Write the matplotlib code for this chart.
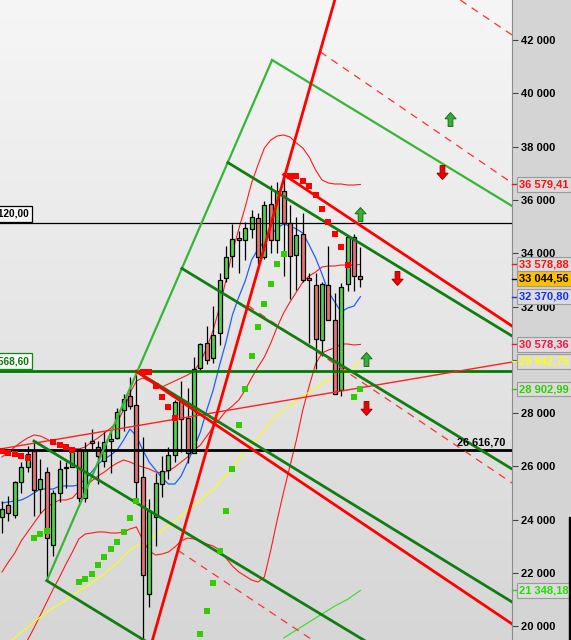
import numpy as np
import matplotlib.pyplot as plt
import matplotlib.transforms as mtransforms
from matplotlib.colors import LinearSegmentedColormap
from matplotlib.path import Path
from matplotlib.patches import Rectangle

plt.rcParams['font.family'] = ['Liberation Sans', 'DejaVu Sans']
nan = np.nan

# monthly candles, May 2018 .. Jan 2023 (index 0..56)
opens = [24117, 24542, 24161, 25416, 25964, 26598, 25152, 25780, 23058, 24999,
         25975, 25997, 26640, 24819, 26964, 26730, 26198, 26962, 27080, 28109,
         28638, 28319, 25591, 21227, 24120, 25342, 25879, 26419, 28439, 27816,
         26501, 29691, 30627, 30055, 30999, 33054, 33904, 34584, 34507, 34926,
         35312, 33844, 35833, 34502, 36322, 35152, 33926, 34726, 33061, 32814,
         30737, 32798, 31510, 28855, 32862, 34590, 33148]
highs = [24700, 24900, 25461, 26167, 26770, 26952, 26277, 25980, 25100, 26241,
         26156, 26696, 26665, 26907, 27399, 26958, 27306, 27398, 28175, 28701,
         29374, 29568, 27102, 24765, 25759, 26400, 26743, 28502, 29199, 28958,
         30116, 30637, 31272, 32009, 33259, 34256, 35091, 34849, 35171, 35631,
         35510, 35952, 36566, 36680, 36953, 35825, 35372, 35492, 33276, 33272,
         32910, 34281, 32504, 32883, 34589, 34712, 34234]
lows = [23500, 23950, 24077, 25013, 25800, 24122, 24268, 21713, 22638, 24681,
        25208, 25962, 24680, 24680, 26586, 25339, 25978, 25743, 27011, 27325,
        28170, 24681, 18214, 20735, 23000, 24844, 25524, 26180, 26537, 26143,
        26501, 29582, 29857, 29897, 30548, 32931, 33474, 33272, 33742, 34584,
        33613, 33785, 34006, 34006, 33150, 32272, 32632, 32913, 30636, 29653,
        30144, 31500, 28715, 28660, 32573, 32573, 32730]
closes = [24416, 24271, 25415, 25965, 26458, 25116, 25538, 23327, 24999, 25916,
          25929, 26593, 24815, 26600, 26864, 26403, 26917, 27046, 28051, 28538,
          28256, 25409, 21917, 24346, 25383, 25813, 26428, 28430, 27782, 26502,
          29639, 30606, 29983, 30932, 32981, 33875, 34529, 34503, 34935, 35361,
          33844, 35820, 34484, 36338, 35132, 33893, 34678, 32977, 32990, 30775,
          32845, 31510, 28725, 32733, 34590, 33147, 33044.56]

bb_upper = [26354, 26542, 26729, 26917, 27067, 27180, 27142, 27030, 26879, 26804,
            26729, 26692, 26654, 26729, 26917, 27067, 27255, 27442, 27667, 28118,
            28755, 29206, 29318, 29206, 29093, 28980, 29093, 29206, 29318, 29431,
            29581, 29919, 30444, 31119, 31982, 32995, 34046, 34909, 35734, 36634,
            37310, 37948, 38248, 38398, 38436, 38361, 38135, 37948, 37610, 37122,
            36747, 36634, 36597, 36597, 36559, 36559, 36579.41]
bb_mid = [22040, 22415, 22753, 23203, 23541, 23879, 24216, 24479, 24628, 24741,
          24741, 24816, 25078, 25266, 25454, 25641, 25791, 25979, 26129, 26242,
          26166, 26054, 25979, 25904, 25791, 25754, 25829, 25979, 26166, 26354,
          26617, 26804, 27142, 27480, 27780, 28081, 28268, 28493, 28868, 29318,
          29731, 30106, 30631, 31231, 31756, 32170, 32545, 32920, 33145, 33295,
          33483, 33521, 33521, 33558, 33558, 33558, 33578.88]
bb_lower = [nan, nan, nan, 18999, 19488, 19938, 20426, 20913, 21401, 21851,
            22339, 22789, 23278, 23465, 23503, 23541, 23541, 23503, 23503, 23541,
            23653, 23728, 23240, 22828, 22677, 22715, 22789, 22977, 23203, 23315,
            23278, 23203, 23090, 23015, 22865, 22565, 22265, 22040, 21889, 21739,
            21664, 21851, 22865, 23990, 25041, 26017, 26992, 28118, 29018, 29844,
            30256, 30369, 30444, 30594, 30594, 30557, 30578.36]
ma_blue = [24628, 24666, 24703, 24741, 24853, 25003, 25153, 25153, 25153, 25266,
           25266, 25266, 25304, 25529, 25791, 26091, 26279, 26429, 26617, 26992,
           27405, 27142, 26617, 26166, 25866, 25566, 25341, 25341, 25641, 26166,
           26692, 27292, 28118, 28868, 29806, 30669, 31682, 32358, 32958, 33746,
           34159, 34459, 34684, 34946, 35097, 35021, 34909, 34759, 34309, 33821,
           33221, 32545, 32170, 31795, 31945, 32020, 32370.80]
ma_yellow = [19188, 19376, 19563, 19788, 19976, 20163, 20351, 20539, 20689, 20839,
             20989, 21139, 21327, 21477, 21627, 21815, 21965, 22190, 22377, 22640,
             22865, 23015, 23128, 23278, 23390, 23615, 23765, 23953, 24141, 24366,
             24553, 24741, 24966, 25153, 25416, 25679, 25942, 26279, 26617, 26879,
             27067, 27367, 27667, 27930, 28118, 28268, 28456, 28643, 28793, 28943,
             29131, 29243, 29318, 29394, 29544, 29731, 29942.75]
sar_red = [26579, 26504, 26467, 26392, 26317, nan, nan, nan, 26917, 26804,
           26729, 26617] + [nan] * 10 + \
          [29543, 29543, 29018, 28606, 28231, 27818] + [nan] * 17 + \
          [36897, 36897, 36710, 36522, 36185, 35659, 35171, 34721, 34233, 33558, nan, nan]
sar_green = [nan] * 5 + [23315, 23465, 23578] + [nan] * 4 + \
            [21664, 21777, 21965, 22303, 22603, 22902, 23165, 23541, 24066, 24703] + \
            [nan] * 9 + \
            [19713, 20576, 21627, 22828, 24329, 25904, 27555, 28906, 30144, 31232,
             32095, 32845, 33596, 33971] + [nan] * 10 + [28606, 28902.99]
env_green = [nan] * 44 + [19563, 19713, 19863, 20013, 20163, 20313, 20463, 20613,
                          20763, 20888, 21013, 21180, 21348.18]

# drawn trend lines: (x0, y0, x1, y1) in candle index / price
red_thick = [(22, 18214, 52, 43500), (21, 29568, 79.7, 20090), (44, 36953, 79.7, 31269)]
red_dashed = [(38.4, 32040, 79.7, 25379), (49.7, 41560, 79.7, 36635),
              (71.6, 43500, 79.7, 42188), (27.5, 22850, 50.0, 19250)]
red_thin = [(-0.3, 26655, 79.7, 29918)]
green_light = [(7, 21713, 42.2, 41250), (42.2, 41250, 79.7, 35772)]
green_dark = [(7, 21713, 24.7, 19113), (35.3, 37400, 79.7, 30894),
              (28.1, 33430, 79.7, 25904), (21, 29568, 79.7, 20914),
              (5, 26952, 59.1, 19113)]
levels = [35120.00, 29568.60, 26616.70]

arrow_up_x = [70.0, 55.9, 56.9]
arrow_up_y = [39036, 35490, 30031]
arrow_dn_x = [68.75, 61.7, 56.9]
arrow_dn_y = [37066, 33089, 28211]

right_labels = [(36579.41, '#ff1010', '#dcdcdc'), (33578.88, '#ff1010', '#dcdcdc'),
                (33044.56, 'black', '#ffc000'), (32370.80, '#1030ff', '#dcdcdc'),
                (30578.36, '#ff1040', '#dcdcdc'), (29942.75, '#ffff00', '#dcdcdc'),
                (28902.99, '#33cc00', '#dcdcdc'), (21348.18, '#22dd00', '#dcdcdc')]


def fmt(v, dec=True):
    s = f"{v:,.2f}" if dec else f"{v:,.0f}"
    return s.replace(',', ' ').replace('.', ',')


fig = plt.figure(figsize=(5.71, 6.40), dpi=100)
fig.patch.set_facecolor('#d4d4d4')
ax = fig.add_axes([0, 0, 512 / 571, 1])

grad = np.linspace(0, 1, 256).reshape(-1, 1)
bg = LinearSegmentedColormap.from_list('bg', ['#d6d6d6', '#f6f6f6'])
ax.imshow(grad, extent=[0, 1, 0, 1], transform=ax.transAxes, aspect='auto',
          cmap=bg, origin='lower', zorder=0)

idx = np.arange(len(closes))

# indicators
ax.plot(idx, bb_upper, color='#ff1a1a', lw=0.8, zorder=2)
ax.plot(idx, bb_mid, color='#ff1a1a', lw=0.8, zorder=2)
ax.plot(idx, bb_lower, color='#ff1a1a', lw=0.8, zorder=2)
ax.plot(idx, ma_yellow, color='#ffff00', lw=0.8, zorder=2)
ax.plot(idx, ma_blue, color='#1f5fff', lw=0.9, zorder=2)
ax.plot(idx, env_green, color='#33dd22', lw=0.8, zorder=2)

# candles
for i in idx:
    o, h, l, c = opens[i], highs[i], lows[i], closes[i]
    ax.vlines(i, l, h, color='black', lw=0.9, zorder=3)
    col = '#50d24a' if c >= o else '#e57373'
    ax.bar(i, max(abs(c - o), 30), bottom=min(o, c), width=0.64, color=col,
           edgecolor='black', linewidth=0.9, zorder=3.5)

# horizontal levels
ax.axhline(levels[0], color='black', lw=0.9, zorder=4)
ax.axhline(levels[1], color='#007a00', lw=2.0, zorder=4)
ax.axhline(levels[2], color='black', lw=2.0, zorder=4)

for x0, y0, x1, y1 in red_thin:
    ax.plot([x0, x1], [y0, y1], color='#ff2020', lw=1.0, zorder=4)
for x0, y0, x1, y1 in red_dashed:
    ax.plot([x0, x1], [y0, y1], color='#ff3030', lw=0.9, dashes=(6, 5), zorder=4)
for x0, y0, x1, y1 in green_light:
    ax.plot([x0, x1], [y0, y1], color='#36b636', lw=1.6, zorder=4)
for x0, y0, x1, y1 in green_dark:
    ax.plot([x0, x1], [y0, y1], color='#117d11', lw=2.0, zorder=4)
for x0, y0, x1, y1 in red_thick:
    ax.plot([x0, x1], [y0, y1], color='#ff0000', lw=2.0, zorder=4.2)

# parabolic SAR
ax.plot(idx, sar_red, 's', color='#ff0000', ms=3.8, mew=0, zorder=5)
ax.plot(idx, sar_green, 's', color='#33cc00', ms=3.8, mew=0, zorder=5)

# arrows
up = Path([(-0.4, 0.05), (0, 0.5), (0.4, 0.05), (0.17, 0.05), (0.17, -0.5),
           (-0.17, -0.5), (-0.17, 0.05), (-0.4, 0.05)])
dn = Path([(x, -y) for x, y in up.vertices])
ax.plot(arrow_up_x, arrow_up_y, ls='none', marker=up, ms=10, mfc='#35b035',
        mec='#1d6a1d', mew=0.7, zorder=6)
ax.plot(arrow_dn_x, arrow_dn_y, ls='none', marker=dn, ms=10, mfc='#f00000',
        mec='#a00000', mew=0.7, zorder=6)

blend = mtransforms.blended_transform_factory(ax.transAxes, ax.transData)

# left level labels (cut at the left edge as in the original)
ax.annotate(fmt(levels[0]), xy=(29 / 512, levels[0]), xycoords=blend,
            xytext=(0, 3.5), textcoords='offset points', ha='right', va='bottom',
            fontsize=7.2, fontweight='bold', color='black', zorder=10,
            bbox=dict(boxstyle='square,pad=0.3', fc='#f8f8f8', ec='black', lw=0.9))
ax.annotate(fmt(levels[1]), xy=(29 / 512, levels[1]), xycoords=blend,
            xytext=(0, 3.5), textcoords='offset points', ha='right', va='bottom',
            fontsize=7.2, fontweight='bold', color='#0a7a0a', zorder=10,
            bbox=dict(boxstyle='square,pad=0.3', fc='#f8f8f8', ec='#0a8a0a', lw=0.9))
ax.annotate(fmt(levels[2]), xy=(505 / 512, levels[2]), xycoords=blend,
            xytext=(0, 2), textcoords='offset points', ha='right', va='bottom',
            fontsize=7.8, fontweight='bold', color='black', zorder=10)

ax.set_xlim(-0.3125, 79.69)
ax.set_ylim(19488, 43501)

ax.set_xticks([])
ax.yaxis.tick_right()
yt = list(range(20000, 42001, 2000))
ax.set_yticks(yt)
ax.set_yticklabels([fmt(v, dec=False) for v in yt])
ax.tick_params(axis='y', direction='out', length=4, width=0.8, color='#444444',
               pad=2.5, labelsize=8)
for lab in ax.get_yticklabels():
    lab.set_fontweight('bold')
for s in ['top', 'left', 'bottom']:
    ax.spines[s].set_visible(False)
ax.spines['right'].set_color('#8c8c8c')

# value labels on the price axis
for v, col, fc in right_labels:
    ax.plot([1.0, 1.0 + 4 / 512], [v, v], color=col, lw=1.0, transform=blend,
            clip_on=False, zorder=19)
    ax.text(519 / 512, v, fmt(v), transform=blend, ha='left', va='center',
            fontsize=8, fontweight='bold', color=col, clip_on=False, zorder=20,
            bbox=dict(boxstyle='square,pad=0.2', fc=fc, ec='#9a9a9a', lw=0.8))

fig.add_artist(Rectangle((569 / 571, 0), 2 / 571, 123 / 640,
                         transform=fig.transFigure, color='black'))

fig.savefig('out.png', dpi=100, facecolor=fig.get_facecolor())
